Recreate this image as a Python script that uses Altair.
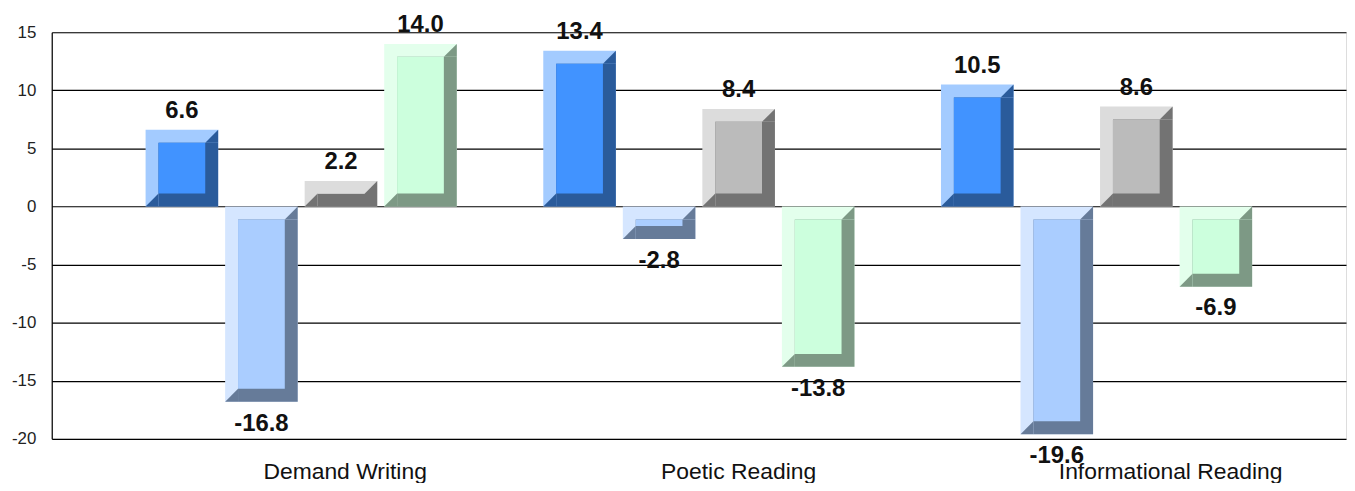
import altair as alt
import pandas as pd

# ---- data ----
categories = ["Demand Writing", "Poetic Reading", "Informational Reading"]
series_names = ["Series 1", "Series 2", "Series 3", "Series 4"]
series_1 = [6.6, 13.4, 10.5]
series_2 = [-16.8, -2.8, -19.6]
series_3 = [2.2, 8.4, 8.6]
series_4 = [14.0, -13.8, -6.9]
y_ticks = [-20, -15, -10, -5, 0, 5, 10, 15]

# ---- styles ----
light_colors = ["#A3CBFF", "#D5E6FF", "#DCDCDC", "#E3FFEC"]
mid_colors = ["#4193FF", "#AACDFF", "#BBBBBB", "#CCFFDD"]
dark_colors = ["#2A5B9B", "#667B99", "#737373", "#7D9985"]

FONT = "Liberation Sans"
GROUP_STEP = 5          # slots between category groups
BAR_W = 0.9125          # bar width in slot units
EDGE = 1.18             # empty space at each side, slot units
BEVEL = 13              # bevel size in pixels
W, H = 1302, 409
Y_MIN, Y_MAX = -20, 15

rows = []
for s, vals in enumerate([series_1, series_2, series_3, series_4]):
    for g, v in enumerate(vals):
        c = g * GROUP_STEP + s
        rows.append(dict(
            category=categories[g], series=series_names[s], value=v,
            center=c, left=c - BAR_W / 2, right=c + BAR_W / 2,
            top=max(v, 0.0), bot=min(v, 0.0),
            light=light_colors[s], mid=mid_colors[s], dark=dark_colors[s],
        ))
df = pd.DataFrame(rows)

cat_df = pd.DataFrame({
    "category": categories,
    "center": [g * GROUP_STEP + 1.5 for g in range(len(categories))],
})

x_dom = [-BAR_W / 2 - EDGE, (len(categories) - 1) * GROUP_STEP + 3 + BAR_W / 2 + EDGE]
xs = alt.Scale(domain=x_dom, nice=False, zero=False)
ys = alt.Scale(domain=[Y_MIN, Y_MAX], nice=False, zero=False)

y_axis = alt.Axis(values=y_ticks, grid=True, gridColor="#000", gridWidth=1.2,
                  domain=True, domainColor="#000", domainWidth=1.2, ticks=False,
                  labelPadding=16, labelFontSize=17, labelFont=FONT, labelColor="#222",
                  labelExpr="'' + datum.value", title=None)


def X(field):
    return alt.X(field, type="quantitative", scale=xs, axis=None)


def Y(field):
    return alt.Y(field, type="quantitative", scale=ys, axis=y_axis)


base = alt.Chart(df)
bar_enc = dict(x=X("left"), x2="right:Q", y=Y("top"), y2="bot:Q")

outer = base.mark_bar(strokeWidth=0).encode(
    **bar_enc, color=alt.Color("light:N", scale=None))
dark = base.mark_bar(strokeWidth=0, xOffset=BEVEL, yOffset=BEVEL).encode(
    **bar_enc, color=alt.Color("dark:N", scale=None))
inner = base.mark_bar(strokeWidth=0, xOffset=BEVEL, x2Offset=-BEVEL,
                      yOffset=BEVEL, y2Offset=-BEVEL).encode(
    **bar_enc, color=alt.Color("mid:N", scale=None))

TRI = "M1,-1 L1,1 L-1,1 Z"
corner_tr = base.mark_point(shape=TRI, size=BEVEL * BEVEL, filled=True, opacity=1,
                            strokeWidth=0, xOffset=-BEVEL / 2, yOffset=BEVEL / 2).encode(
    x=X("right"), y=Y("top"), color=alt.Color("dark:N", scale=None))
corner_bl = base.mark_point(shape=TRI, size=BEVEL * BEVEL, filled=True, opacity=1,
                            strokeWidth=0, xOffset=BEVEL / 2, yOffset=-BEVEL / 2).encode(
    x=X("left"), y=Y("bot"), color=alt.Color("dark:N", scale=None))

label_calc = "replace(format(datum.value, '.1f'), '\u2212', '-')"
lbl_pos = base.transform_filter("datum.value >= 0").transform_calculate(
    lbl=label_calc).mark_text(
    font=FONT, fontSize=24, fontWeight="bold", color="#111",
    baseline="alphabetic", dy=-12).encode(
    x=X("center"), y=Y("value"), text="lbl:N")
lbl_neg = base.transform_filter("datum.value < 0").transform_calculate(
    lbl=label_calc).mark_text(
    font=FONT, fontSize=24, fontWeight="bold", color="#111",
    baseline="alphabetic", dy=29).encode(
    x=X("center"), y=Y("value"), text="lbl:N")

cat_lbl = alt.Chart(cat_df).mark_text(
    font=FONT, fontSize=23, color="#111", align="left",
    baseline="alphabetic", dx=-38, dy=40).encode(
    x=X("center"), y=alt.datum(Y_MIN), text="category:N")

chart = alt.layer(outer, dark, inner, corner_tr, corner_bl, lbl_pos, lbl_neg, cat_lbl).properties(
    width=W, height=H,
    padding={"left": 44, "top": 23, "right": 1, "bottom": 43},
    autosize="none",
).configure_view(stroke="#000", strokeWidth=1.2).configure(background="white")

chart.save("out.html", embed_options={"renderer": "svg", "actions": False})
